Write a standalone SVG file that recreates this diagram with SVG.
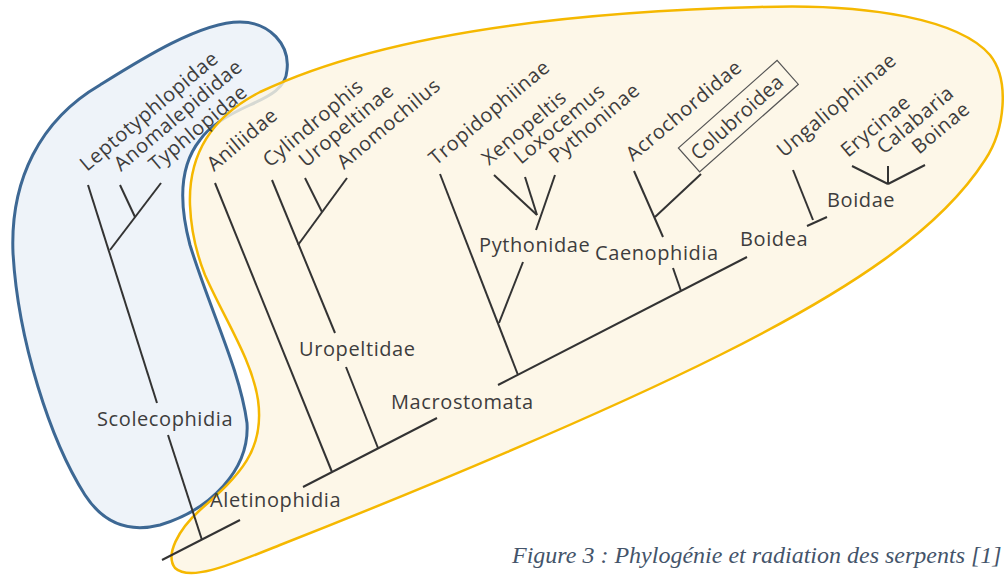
<svg xmlns="http://www.w3.org/2000/svg" width="1004" height="576" viewBox="0 0 1004 576">
<style>
.lbl{font-family:"Open Sans","DejaVu Sans",sans-serif;font-size:20px;fill:#3d3d3d;letter-spacing:0.6px}
.br{stroke:#333;stroke-width:2;stroke-linecap:butt;fill:none}
.cap{font-family:"Liberation Serif","Times New Roman",serif;font-style:italic;font-size:24px;fill:#44546a}
</style>
<rect width="1004" height="576" fill="#ffffff"/>
<g id="hull-scolecophidia">
<path d="M 13,253 C 10,180 40,120 100,85 C 140,60 200,22 240,22 C 270,22 290,45 287,70 C 286,88 270,96 250,105 C 230,114 210,125 200,140 C 180,165 178,200 190,245 C 210,310 240,370 247,423 C 250,470 210,510 160,525 C 120,535 98,515 85,495 C 50,440 18,340 13,253 Z" fill="#eef3f9" stroke="#3d6894" stroke-width="3"/>
</g>
<g id="hull-aletinophidia">
<path d="M 190,205 C 188,150 215,115 260,92 C 380,35 560,12 760,7 C 870,3 960,20 990,55 C 1010,80 1005,130 985,160 C 940,230 850,290 720,355 C 600,415 420,490 280,545 C 230,565 190,582 175,568 C 165,555 178,530 200,510 C 240,475 265,450 258,400 C 252,360 225,320 205,275 C 195,250 191,230 190,205 Z" fill="#fdf5e2" fill-opacity="0.8" stroke="#f5b800" stroke-width="2.5"/>
</g>
<g id="connectors" class="br">
<line x1="88" y1="185" x2="157" y2="403"/>
<line x1="168" y1="435" x2="202" y2="540"/>
<line x1="120" y1="185" x2="135" y2="217"/>
<line x1="161" y1="183" x2="110" y2="250"/>
<line x1="162" y1="560" x2="240" y2="520"/>
<line x1="303" y1="487" x2="437" y2="418"/>
<line x1="498" y1="385" x2="747" y2="257"/>
<line x1="215" y1="183" x2="332" y2="472"/>
<line x1="272" y1="180" x2="335" y2="333"/>
<line x1="346" y1="367" x2="378" y2="448"/>
<line x1="305" y1="178" x2="322" y2="212"/>
<line x1="347" y1="178" x2="298" y2="245"/>
<line x1="440" y1="174" x2="518" y2="375"/>
<line x1="523" y1="262" x2="499" y2="323"/>
<line x1="494" y1="175" x2="537" y2="215"/>
<line x1="525" y1="177" x2="537" y2="215"/>
<line x1="555" y1="175" x2="536" y2="230"/>
<line x1="634" y1="171" x2="663" y2="237"/>
<line x1="701" y1="174" x2="655" y2="217"/>
<line x1="673" y1="268" x2="681" y2="291"/>
<line x1="793" y1="170" x2="813" y2="220"/>
<line x1="807" y1="226" x2="827" y2="217"/>
<line x1="852" y1="166" x2="888" y2="184"/>
<line x1="888" y1="166" x2="888" y2="184"/>
<line x1="925" y1="165" x2="888" y2="184"/>
</g>
<g id="n-leptotyphlopidae"><text class="lbl" transform="translate(87,172) rotate(-40)">Leptotyphlopidae</text></g>
<g id="n-anomalepididae"><text class="lbl" transform="translate(121,172) rotate(-40)">Anomalepididae</text></g>
<g id="n-typhlopidae"><text class="lbl" transform="translate(156,172) rotate(-40)">Typhlopidae</text></g>
<g id="n-scolecophidia"><text class="lbl" x="97" y="426">Scolecophidia</text></g>
<g id="n-aniliidae"><text class="lbl" transform="translate(214,172) rotate(-40)">Aniliidae</text></g>
<g id="n-cylindrophis"><text class="lbl" transform="translate(270,168) rotate(-40)">Cylindrophis</text></g>
<g id="n-uropeltinae"><text class="lbl" transform="translate(306,168) rotate(-40)">Uropeltinae</text></g>
<g id="n-anomochilus"><text class="lbl" transform="translate(344,170) rotate(-40)">Anomochilus</text></g>
<g id="n-uropeltidae"><text class="lbl" x="299" y="356">Uropeltidae</text></g>
<g id="n-aletinophidia"><text class="lbl" x="210" y="507">Aletinophidia</text></g>
<g id="n-macrostomata"><text class="lbl" x="391" y="409">Macrostomata</text></g>
<g id="n-tropidophiinae"><text class="lbl" transform="translate(436,166) rotate(-40)">Tropidophiinae</text></g>
<g id="n-xenopeltis"><text class="lbl" transform="translate(489,166) rotate(-40)">Xenopeltis</text></g>
<g id="n-loxocemus"><text class="lbl" transform="translate(521,165) rotate(-40)">Loxocemus</text></g>
<g id="n-pythoninae"><text class="lbl" transform="translate(556,164) rotate(-40)">Pythoninae</text></g>
<g id="n-pythonidae"><text class="lbl" x="479" y="252">Pythonidae</text></g>
<g id="n-acrochordidae"><text class="lbl" transform="translate(633,162) rotate(-40)">Acrochordidae</text></g>
<g id="n-colubroidea" transform="translate(689,160) rotate(-41.6)">
<rect x="0" y="-16" width="132" height="32" fill="none" stroke="#555" stroke-width="1.2"/>
<text class="lbl" x="6" y="7" style="letter-spacing:0.2px">Colubroidea</text>
</g>
<g id="n-caenophidia"><text class="lbl" x="595" y="260">Caenophidia</text></g>
<g id="n-boidea"><text class="lbl" x="740" y="246">Boidea</text></g>
<g id="n-ungaliophiinae"><text class="lbl" transform="translate(784,158) rotate(-40)">Ungaliophiinae</text></g>
<g id="n-erycinae"><text class="lbl" transform="translate(848,158) rotate(-40)">Erycinae</text></g>
<g id="n-calabaria"><text class="lbl" transform="translate(884,155) rotate(-40)">Calabaria</text></g>
<g id="n-boinae"><text class="lbl" transform="translate(919,155) rotate(-40)">Boinae</text></g>
<g id="n-boidae"><text class="lbl" x="827" y="207">Boidae</text></g>
<g id="caption"><text class="cap" x="512" y="563">Figure 3 : Phylogénie et radiation des serpents [1]</text></g>
</svg>
